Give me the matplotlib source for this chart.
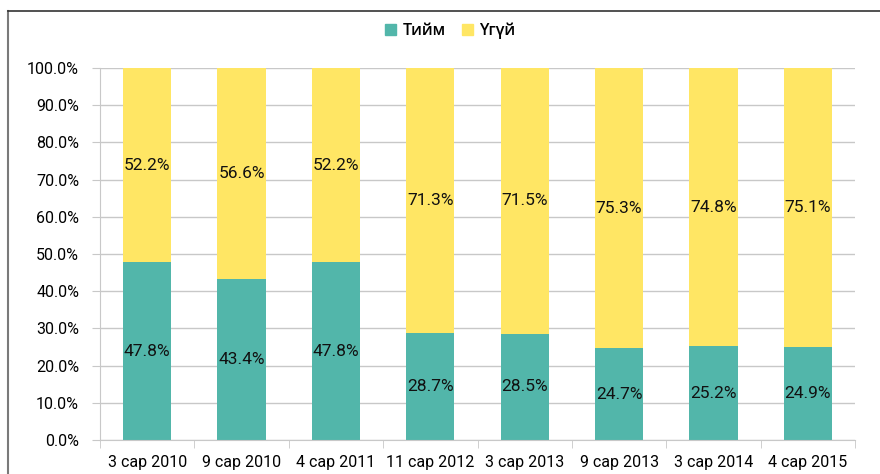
import matplotlib
matplotlib.use("Agg")
import matplotlib.pyplot as plt
from matplotlib.lines import Line2D
from matplotlib.patches import Patch
import numpy as np

# data
categories = ["3 сар 2010", "9 сар 2010", "4 сар 2011", "11 сар 2012",
              "3 сар 2013", "9 сар 2013", "3 сар 2014", "4 сар 2015"]
yes_vals = [47.8, 43.4, 47.8, 28.7, 28.5, 24.7, 25.2, 24.9]
no_vals = [52.2, 56.6, 52.2, 71.3, 71.5, 75.3, 74.8, 75.1]
series_names = ["Тийм", "Үгүй"]

teal = "#52B6AA"
yellow = "#FFE664"
grid_c = "#C8C8C8"

plt.rcParams['font.family'] = ['Roboto', 'DejaVu Sans']

fig = plt.figure(figsize=(8.8, 4.74), dpi=100)
ax = fig.add_axes([100/880, 1-440/474, 755/880, 372/474])

x = np.arange(len(categories))
w = 0.51
b1 = ax.bar(x, yes_vals, w, color=teal, zorder=2)
b2 = ax.bar(x, no_vals, w, bottom=yes_vals, color=yellow, zorder=2)

# value labels in the middle of each segment
for i in range(len(categories)):
    ax.text(x[i], yes_vals[i] / 2, f"{yes_vals[i]:.1f}%", ha='center', va='center',
            fontsize=12.5, color='#111111', zorder=3)
    ax.text(x[i], yes_vals[i] + no_vals[i] / 2, f"{no_vals[i]:.1f}%", ha='center', va='center',
            fontsize=12.5, color='#111111', zorder=3)

ax.set_xlim(-0.5, len(categories) - 0.5)
ax.set_ylim(0, 100)
ax.set_yticks(np.arange(0, 101, 10))
ax.set_yticklabels([f"{v:.1f}%" for v in np.arange(0, 101, 10)], fontsize=11.5)
ax.yaxis.grid(True, color=grid_c, lw=1, zorder=0)
ax.tick_params(axis='y', length=6, color=grid_c, pad=9)

ax.set_xticks(x)
ax.set_xticklabels(categories, fontsize=11.5)
ax.set_xticks(np.arange(-0.5, len(categories)), minor=True)
ax.tick_params(axis='x', which='major', length=0, pad=11)
ax.tick_params(axis='x', which='minor', length=6, color=grid_c)

for s in ['top', 'right']:
    ax.spines[s].set_visible(False)
for s in ['left', 'bottom']:
    ax.spines[s].set_color(grid_c)

handles = [Patch(color=teal), Patch(color=yellow)]
fig.legend(handles, series_names, loc='center', bbox_to_anchor=(450/880, 1-31/474),
           ncol=2, frameon=False, prop={'family': ['Open Sans', 'DejaVu Sans'], 'size': 11.5, 'weight': 'semibold'},
           handlelength=0.7, handleheight=0.7, columnspacing=1.0, handletextpad=0.4)

# outer frame (left and top edges)
fig.add_artist(Line2D([8/880, 8/880], [0, 1-11/474], color='#7a7a7a', lw=1.5))
fig.add_artist(Line2D([8/880, 1], [1-11/474, 1-11/474], color='#333333', lw=1.2))

fig.savefig("out.png", dpi=100)
